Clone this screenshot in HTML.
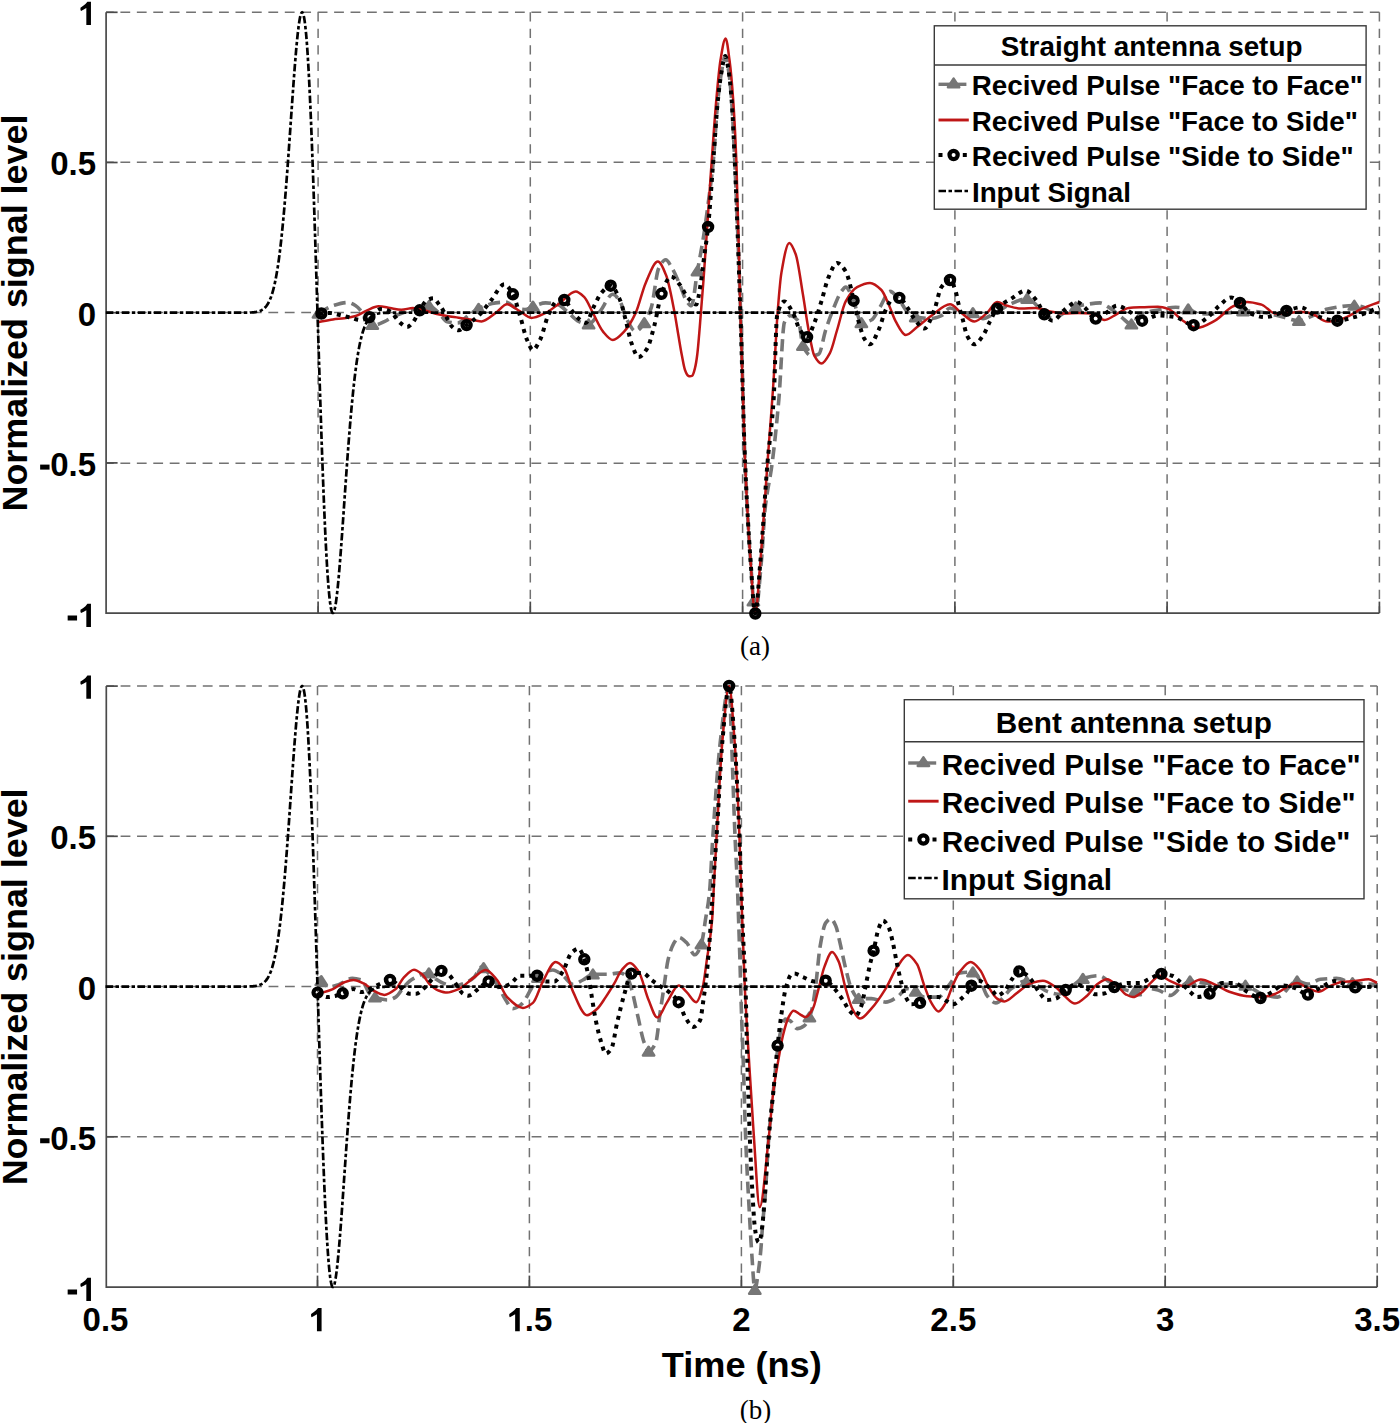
<!DOCTYPE html>
<html><head><meta charset="utf-8"><title>Received pulses</title>
<style>html,body{margin:0;padding:0;background:#fff;} svg{display:block;}</style></head>
<body>
<svg width="1400" height="1423" viewBox="0 0 1400 1423">
<rect width="1400" height="1423" fill="#fff"/>
<g stroke="#727272" stroke-width="1.5" stroke-dasharray="9.2 7.3" stroke-dashoffset="0" fill="none"><line x1="318.1" y1="12.3" x2="318.1" y2="613.1"/><line x1="530.3" y1="12.3" x2="530.3" y2="613.1"/><line x1="742.6" y1="12.3" x2="742.6" y2="613.1"/><line x1="954.9" y1="12.3" x2="954.9" y2="613.1"/><line x1="1167.1" y1="12.3" x2="1167.1" y2="613.1"/><line x1="1379.4" y1="12.3" x2="1379.4" y2="613.1"/></g>
<g stroke="#727272" stroke-width="1.5" stroke-dasharray="9.8 6.64" stroke-dashoffset="2.14" fill="none"><line x1="106.1" y1="12.3" x2="1379.4" y2="12.3"/><line x1="106.1" y1="162.3" x2="1379.4" y2="162.3"/><line x1="106.1" y1="312.6" x2="1379.4" y2="312.6"/><line x1="106.1" y1="463.2" x2="1379.4" y2="463.2"/></g>
<g stroke="#4a4a4a" stroke-width="1.7" fill="none"><path d="M106.1,12.3 V613.1 H1379.4"/><line x1="318.1" y1="613.1" x2="318.1" y2="601.6"/><line x1="530.3" y1="613.1" x2="530.3" y2="601.6"/><line x1="742.6" y1="613.1" x2="742.6" y2="601.6"/><line x1="954.9" y1="613.1" x2="954.9" y2="601.6"/><line x1="1167.1" y1="613.1" x2="1167.1" y2="601.6"/><line x1="1379.4" y1="613.1" x2="1379.4" y2="601.6"/><line x1="106.1" y1="12.3" x2="117.6" y2="12.3"/><line x1="106.1" y1="162.5" x2="117.6" y2="162.5"/><line x1="106.1" y1="312.7" x2="117.6" y2="312.7"/><line x1="106.1" y1="462.9" x2="117.6" y2="462.9"/></g>
<g font-family="Liberation Sans, sans-serif" font-weight="bold" font-size="33" fill="#000"><path d="M90.96,1.77 L90.96,25.00 L86.33,25.00 L86.33,8.10 L83.76,9.60 L81.06,11.00 L80.46,10.00 L80.46,7.70 L82.90,6.10 L85.46,4.10 L87.40,1.77Z"/><text x="50.13" y="175.1">0</text><text x="68.48" y="175.1">.</text><text x="77.65" y="175.1">5</text><text x="77.65" y="325.9">0</text><rect x="40.14" y="464.60" width="9.4" height="5.0"/><text x="50.13" y="476.2">0</text><text x="68.48" y="476.2">.</text><text x="77.65" y="476.2">5</text><rect x="67.66" y="615.50" width="9.4" height="5.0"/><path d="M90.96,603.87 L90.96,627.10 L86.33,627.10 L86.33,610.20 L83.76,611.70 L81.06,613.10 L80.46,612.10 L80.46,609.80 L82.90,608.20 L85.46,606.20 L87.40,603.87Z"/></g>
<text transform="translate(26.55,511.5) rotate(-90)" font-family="Liberation Sans, sans-serif" font-weight="bold" font-size="35.8" textLength="396.9" lengthAdjust="spacingAndGlyphs">Normalized signal level</text>
<path d="M318.0,313.7C323.0,311.0 327.9,307.2 332.9,305.7C337.8,304.2 342.8,302.5 347.7,302.5C350.4,302.5 353.0,304.1 355.7,305.7C357.6,306.8 359.5,309.1 361.4,311.4C363.3,313.7 365.2,318.8 367.1,320.6C369.4,322.8 371.7,325.1 374.0,325.1C377.4,325.1 380.9,323.2 384.3,321.7C387.0,320.6 389.6,318.4 392.3,317.1C396.5,315.1 400.8,313.5 405.0,312.0C409.3,310.5 413.7,309.1 418.0,308.0C421.6,307.1 425.3,305.7 428.9,305.7C431.9,305.7 435.0,309.5 438.0,312.0C441.0,314.5 444.1,321.0 447.1,321.7C450.5,322.5 454.0,323.0 457.4,323.0C461.6,323.0 465.8,316.8 470.0,314.0C472.9,312.1 475.7,309.9 478.6,308.6C484.3,306.0 490.0,303.6 495.7,302.9C499.0,302.5 502.4,302.1 505.7,302.1C509.5,302.1 513.3,307.9 517.1,308.6C519.7,309.1 522.4,309.5 525.0,309.5C527.6,309.5 530.3,307.3 532.9,306.4C537.2,305.0 541.4,302.9 545.7,302.9C549.5,302.9 553.3,303.5 557.1,304.3C560.4,305.0 563.8,308.8 567.1,311.4C570.9,314.4 574.8,319.8 578.6,321.4C581.9,322.8 585.3,324.3 588.6,324.3C592.4,324.3 596.2,316.0 600.0,311.4C604.3,306.2 608.6,294.3 612.9,294.3C615.3,294.3 617.6,298.0 620.0,301.4C622.4,304.8 624.7,315.8 627.1,320.0C630.0,325.1 632.8,331.4 635.7,331.4C638.6,331.4 641.4,326.9 644.3,322.9C646.7,319.6 649.0,314.5 651.4,307.1C653.8,299.6 656.2,273.4 658.6,268.6C661.0,263.8 663.3,259.8 665.7,259.8C667.8,259.8 669.9,264.6 672.0,268.0C674.7,272.3 677.3,278.9 680.0,285.0C682.0,289.6 684.0,297.0 686.0,300.0C687.8,302.7 689.6,305.8 691.4,305.8C693.4,305.8 695.4,282.4 697.4,271.1C699.3,260.5 701.1,251.6 703.0,240.0C704.7,229.7 706.3,217.6 708.0,205.0C709.7,191.9 711.5,179.7 713.2,162.0C714.8,146.0 716.3,115.2 717.9,100.0C719.1,88.4 720.3,78.7 721.5,72.0C722.7,65.1 724.0,56.0 725.2,56.0C726.4,56.0 727.6,64.5 728.8,72.0C729.7,77.8 730.7,87.8 731.6,100.0C732.7,114.0 733.7,138.7 734.8,162.0C736.7,204.3 738.7,255.9 740.6,312.7C742.1,356.8 743.6,427.5 745.1,462.9C746.9,505.4 748.7,535.3 750.5,560.0C752.1,581.9 753.7,613.5 755.3,613.5C757.4,613.5 759.4,582.8 761.5,560.0C762.7,547.2 763.8,520.9 765.0,510.0C767.4,487.5 769.8,481.6 772.2,462.9C774.4,445.8 776.6,425.0 778.8,400.0C780.7,378.8 782.5,326.7 784.4,322.5C786.3,318.3 788.1,315.7 790.0,315.7C792.9,315.7 795.7,317.7 798.6,321.4C800.0,323.3 801.5,342.7 802.9,345.7C805.7,351.6 808.6,355.7 811.4,355.7C813.8,355.7 816.2,355.2 818.6,354.3C821.0,353.4 823.3,337.3 825.7,330.0C828.1,322.6 830.5,315.9 832.9,310.0C835.7,303.0 838.6,295.1 841.4,291.4C842.8,289.5 844.3,287.1 845.7,287.1C848.1,287.1 850.5,293.7 852.9,298.6C855.7,304.4 858.6,322.9 861.4,322.9C864.7,322.9 868.1,321.6 871.4,320.0C874.3,318.6 877.1,311.5 880.0,307.1C883.3,302.0 886.7,291.4 890.0,291.4C892.7,291.4 895.3,295.2 898.0,298.0C901.0,301.2 904.1,308.6 907.1,311.4C910.0,314.0 912.8,316.6 915.7,317.1C920.9,318.0 926.2,318.6 931.4,318.6C934.7,318.6 938.1,317.2 941.4,315.7C944.3,314.4 947.1,308.0 950.0,308.0C954.3,308.0 958.6,312.9 962.9,312.9C966.2,312.9 969.6,312.9 972.9,312.9C976.2,312.9 979.6,318.6 982.9,318.6C986.2,318.6 989.6,315.9 992.9,314.3C998.6,311.5 1004.3,306.7 1010.0,304.3C1015.7,301.9 1021.4,298.6 1027.1,298.6C1030.0,298.6 1032.8,301.8 1035.7,304.3C1038.1,306.4 1040.5,311.0 1042.9,312.9C1046.2,315.5 1049.6,318.6 1052.9,318.6C1056.7,318.6 1060.5,314.8 1064.3,312.9C1068.1,311.0 1071.9,308.4 1075.7,307.1C1079.5,305.8 1083.3,304.9 1087.1,304.3C1091.4,303.6 1095.7,302.9 1100.0,302.9C1102.9,302.9 1105.7,305.4 1108.6,307.1C1112.9,309.6 1117.1,313.9 1121.4,317.1C1124.7,319.6 1128.1,324.3 1131.4,324.3C1134.3,324.3 1137.1,315.8 1140.0,314.5C1146.0,311.8 1151.9,311.1 1157.9,310.0C1163.8,308.9 1169.8,307.3 1175.7,307.3C1179.9,307.3 1184.0,308.2 1188.2,309.1C1191.8,309.9 1195.3,313.4 1198.9,313.6C1203.3,313.9 1207.6,314.0 1212.0,314.0C1217.8,314.0 1223.5,313.2 1229.3,312.7C1235.2,312.2 1241.2,310.9 1247.1,310.9C1253.1,310.9 1259.0,311.8 1265.0,312.7C1271.0,313.6 1276.9,315.7 1282.9,317.1C1288.2,318.4 1293.6,320.7 1298.9,320.7C1302.5,320.7 1306.0,318.5 1309.6,317.1C1315.6,314.8 1321.5,310.4 1327.5,309.1C1336.4,307.2 1345.4,305.5 1354.3,305.5C1362.6,305.5 1371.0,310.9 1379.3,313.6" fill="none" stroke="#767676" stroke-width="3.6" stroke-dasharray="12 6"/>
<g fill="#767676" stroke="#767676" stroke-width="2.6" stroke-linejoin="round"><path d="M318.5,308.8 L324.1,317.4 L312.9,317.4Z"/><path d="M372.3,320.1 L377.9,328.7 L366.7,328.7Z"/><path d="M429.0,301.1 L434.6,309.7 L423.4,309.7Z"/><path d="M478.6,304.0 L484.2,312.6 L473.0,312.6Z"/><path d="M532.9,301.8 L538.5,310.4 L527.3,310.4Z"/><path d="M588.6,319.7 L594.2,328.3 L583.0,328.3Z"/><path d="M644.3,318.3 L649.9,326.9 L638.7,326.9Z"/><path d="M697.4,266.5 L703.0,275.1 L691.8,275.1Z"/><path d="M753.4,596.6 L759.0,605.2 L747.8,605.2Z"/><path d="M802.9,341.1 L808.5,349.7 L797.3,349.7Z"/><path d="M861.4,318.3 L867.0,326.9 L855.8,326.9Z"/><path d="M915.7,312.5 L921.3,321.1 L910.1,321.1Z"/><path d="M972.9,308.3 L978.5,316.9 L967.3,316.9Z"/><path d="M1027.1,294.0 L1032.7,302.6 L1021.5,302.6Z"/><path d="M1075.7,302.5 L1081.3,311.1 L1070.1,311.1Z"/><path d="M1131.4,319.7 L1137.0,328.3 L1125.8,328.3Z"/><path d="M1188.2,304.5 L1193.8,313.1 L1182.6,313.1Z"/><path d="M1243.0,306.5 L1248.6,315.1 L1237.4,315.1Z"/><path d="M1298.9,316.1 L1304.5,324.7 L1293.3,324.7Z"/><path d="M1354.3,300.9 L1359.9,309.5 L1348.7,309.5Z"/></g>
<path d="M318.0,322.3C323.0,321.3 327.9,320.0 332.9,319.4C336.7,318.9 340.5,318.8 344.3,318.3C348.1,317.8 351.9,317.1 355.7,316.0C359.5,314.9 363.3,311.9 367.1,310.3C370.9,308.7 374.8,306.3 378.6,306.3C382.4,306.3 386.2,307.4 390.0,308.0C393.8,308.6 397.6,309.7 401.4,309.7C405.2,309.7 409.1,308.0 412.9,308.0C416.7,308.0 420.5,309.4 424.3,310.3C428.1,311.2 431.9,312.8 435.7,313.7C439.5,314.6 443.3,315.4 447.1,316.0C450.9,316.7 454.8,317.1 458.6,317.7C462.4,318.3 466.2,318.9 470.0,319.5C473.8,320.1 477.6,321.4 481.4,321.4C486.2,321.4 490.9,316.1 495.7,312.9C499.5,310.4 503.3,304.3 507.1,304.3C511.4,304.3 515.7,309.0 520.0,311.4C523.8,313.5 527.6,317.9 531.4,317.9C536.2,317.9 540.9,315.1 545.7,312.9C550.5,310.7 555.2,306.3 560.0,302.9C565.2,299.2 570.5,291.4 575.7,291.4C578.6,291.4 581.4,294.3 584.3,297.1C587.2,299.9 590.0,307.6 592.9,312.9C596.2,319.0 599.6,327.5 602.9,331.4C606.2,335.3 609.6,340.0 612.9,340.0C616.7,340.0 620.5,335.3 624.3,331.4C628.1,327.5 631.9,321.0 635.7,312.9C639.0,305.8 642.4,290.3 645.7,282.9C649.8,273.8 653.8,261.6 657.9,261.6C660.6,261.6 663.3,268.5 666.0,275.0C668.9,281.9 671.7,297.9 674.6,312.7C675.7,318.6 676.9,326.3 678.0,333.0C679.3,340.4 680.5,348.5 681.8,355.0C682.9,360.5 683.9,367.2 685.0,370.0C686.0,372.7 687.0,375.0 688.0,375.6C688.7,376.0 689.3,376.3 690.0,376.3C690.8,376.3 691.5,376.0 692.3,375.6C693.2,375.1 694.1,371.5 695.0,368.0C695.7,365.2 696.5,360.6 697.2,355.0C698.4,345.6 699.7,327.5 700.9,312.7C701.8,302.3 702.6,291.6 703.5,280.0C704.7,264.4 705.8,246.9 707.0,230.0C708.5,207.7 710.1,183.4 711.6,162.0C713.2,140.2 714.7,117.3 716.3,100.0C717.7,84.6 719.1,68.3 720.5,60.0C722.2,49.9 723.9,38.4 725.6,38.4C726.9,38.4 728.2,50.5 729.5,60.0C730.7,69.1 732.0,82.8 733.2,100.0C734.3,114.9 735.3,135.0 736.4,162.0C737.7,195.7 739.1,266.5 740.4,312.7C742.0,367.0 743.5,426.6 745.1,462.9C746.9,504.6 748.7,535.0 750.5,560.0C752.1,581.7 753.6,613.5 755.2,613.5C757.0,613.5 758.7,580.5 760.5,560.0C762.8,532.9 765.2,494.9 767.5,462.9C769.5,435.0 771.6,410.8 773.6,380.0C774.9,359.8 776.3,329.9 777.6,312.7C778.9,296.4 780.1,280.4 781.4,272.9C784.0,257.4 786.7,242.9 789.3,242.9C791.4,242.9 793.6,248.6 795.7,254.3C798.1,260.7 800.5,280.1 802.9,294.3C804.8,305.5 806.7,320.0 808.6,330.0C810.5,340.0 812.4,352.2 814.3,355.7C816.7,360.0 819.0,363.6 821.4,363.6C824.3,363.6 827.1,358.1 830.0,352.9C832.4,348.6 834.7,337.7 837.1,330.0C840.0,320.6 842.8,306.7 845.7,301.4C849.5,294.3 853.3,289.1 857.1,287.1C861.4,284.8 865.7,282.9 870.0,282.9C873.8,282.9 877.6,286.2 881.4,290.0C883.8,292.4 886.2,299.1 888.6,304.3C891.0,309.5 893.3,317.2 895.7,321.4C899.0,327.3 902.4,335.0 905.7,335.0C909.5,335.0 913.3,329.9 917.1,327.1C921.9,323.6 926.6,319.0 931.4,315.7C937.6,311.4 943.8,304.3 950.0,304.3C953.8,304.3 957.6,310.2 961.4,312.9C965.7,315.9 970.0,321.4 974.3,321.4C978.6,321.4 982.8,316.4 987.1,312.9C990.4,310.1 993.8,302.1 997.1,302.1C1000.4,302.1 1003.8,304.8 1007.1,305.7C1011.9,307.0 1016.6,308.6 1021.4,308.6C1026.2,308.6 1030.9,307.9 1035.7,307.9C1040.5,307.9 1045.2,310.5 1050.0,311.4C1054.8,312.3 1059.5,313.6 1064.3,313.6C1069.1,313.6 1073.8,312.9 1078.6,312.9C1083.4,312.9 1088.1,313.2 1092.9,313.6C1096.7,314.0 1100.5,320.0 1104.3,320.0C1107.6,320.0 1111.0,317.3 1114.3,315.7C1119.1,313.4 1123.8,308.3 1128.6,307.9C1132.4,307.5 1136.2,307.4 1140.0,307.3C1146.0,307.1 1151.9,306.8 1157.9,306.8C1161.5,306.8 1165.0,307.9 1168.6,309.1C1173.4,310.7 1178.1,317.7 1182.9,320.7C1187.6,323.7 1192.4,327.9 1197.1,327.9C1203.1,327.9 1209.0,323.9 1215.0,320.7C1221.0,317.5 1226.9,309.0 1232.9,306.4C1237.6,304.3 1242.4,302.0 1247.1,302.0C1251.9,302.0 1256.6,303.3 1261.4,304.6C1266.2,305.9 1270.9,313.6 1275.7,313.6C1279.8,313.6 1283.9,313.3 1288.0,313.0C1292.2,312.7 1296.5,311.8 1300.7,311.8C1304.3,311.8 1307.8,312.7 1311.4,313.6C1316.8,314.9 1322.1,321.6 1327.5,321.6C1332.3,321.6 1337.0,320.2 1341.8,318.9C1348.9,317.0 1356.1,311.3 1363.2,308.2C1368.6,305.9 1373.9,304.1 1379.3,302.0" fill="none" stroke="#bf1616" stroke-width="2.5"/>
<path d="M319.0,313.7C322.7,313.5 326.3,313.0 330.0,313.0C333.3,313.0 336.7,314.3 340.0,315.0C344.0,315.9 348.0,317.0 352.0,318.0C354.7,318.7 357.3,320.0 360.0,320.0C363.1,320.0 366.3,318.4 369.4,317.1C373.2,315.5 377.1,309.1 380.9,309.1C383.9,309.1 387.0,310.2 390.0,311.4C393.4,312.8 396.9,320.3 400.3,322.9C402.6,324.6 404.8,326.9 407.1,326.9C409.0,326.9 411.0,324.4 412.9,322.3C415.2,319.8 417.4,313.8 419.7,310.3C422.0,306.7 424.3,301.9 426.6,300.6C428.9,299.4 431.1,298.3 433.4,298.3C435.3,298.3 437.2,302.2 439.1,304.6C440.6,306.5 442.2,308.8 443.7,311.4C444.8,313.4 446.0,316.2 447.1,318.3C448.6,321.2 450.2,324.9 451.7,326.3C454.0,328.4 456.3,330.3 458.6,330.3C461.0,330.3 463.3,327.4 465.7,325.7C470.0,322.7 474.3,319.8 478.6,315.7C482.9,311.6 487.1,305.2 491.4,300.0C495.7,294.7 500.0,284.3 504.3,284.3C507.2,284.3 510.0,289.4 512.9,294.3C515.3,298.3 517.6,308.1 520.0,315.7C522.4,323.3 524.7,334.6 527.1,340.0C529.0,344.4 531.0,350.0 532.9,350.0C535.3,350.0 537.6,344.5 540.0,340.0C542.9,334.6 545.7,320.2 548.6,314.3C551.4,308.5 554.2,301.7 557.0,301.0C559.4,300.4 561.9,300.0 564.3,300.0C566.7,300.0 569.0,306.9 571.4,310.0C573.8,313.1 576.2,316.7 578.6,318.6C581.0,320.5 583.3,322.9 585.7,322.9C588.6,322.9 591.4,311.1 594.3,305.7C596.7,301.2 599.0,295.5 601.4,292.9C604.5,289.5 607.6,285.7 610.7,285.7C613.8,285.7 616.9,293.2 620.0,300.0C621.9,304.2 623.8,312.9 625.7,320.0C627.6,327.1 629.5,337.8 631.4,342.9C633.8,349.3 636.2,357.1 638.6,357.1C641.4,357.1 644.3,353.0 647.1,348.6C649.5,344.9 651.9,334.6 654.3,325.7C656.7,316.8 659.1,300.1 661.5,293.8C664.7,285.5 667.8,276.5 671.0,276.5C674.0,276.5 677.0,281.4 680.0,285.0C682.7,288.2 685.3,295.1 688.0,298.0C690.7,300.9 693.5,304.6 696.2,304.6C697.6,304.6 699.1,293.3 700.5,285.0C701.7,278.3 702.8,266.9 704.0,258.0C705.4,247.5 706.7,239.8 708.1,226.9C709.8,210.9 711.5,184.0 713.2,162.0C714.8,141.7 716.3,115.2 717.9,100.0C719.1,88.4 720.3,78.7 721.5,72.0C722.7,65.1 724.0,56.0 725.2,56.0C726.4,56.0 727.6,64.5 728.8,72.0C729.7,77.8 730.7,87.8 731.6,100.0C732.7,114.0 733.7,138.3 734.8,162.0C736.7,203.4 738.5,258.0 740.4,312.7C742.0,358.6 743.5,426.6 745.1,462.9C746.9,504.6 748.7,535.0 750.5,560.0C752.1,581.7 753.6,613.5 755.2,613.5C757.0,613.5 758.7,580.5 760.5,560.0C762.8,532.9 765.2,490.4 767.5,462.9C769.5,438.9 771.6,430.5 773.6,400.0C774.8,382.5 775.9,320.4 777.1,315.7C779.5,305.9 781.9,301.4 784.3,301.4C787.2,301.4 790.0,307.9 792.9,312.9C795.3,317.0 797.6,326.7 800.0,330.0C802.4,333.3 804.7,337.1 807.1,337.1C809.5,337.1 811.9,328.6 814.3,322.9C816.7,317.2 819.0,309.0 821.4,301.4C823.8,293.7 826.2,282.5 828.6,277.1C831.4,270.7 834.3,262.9 837.1,262.9C840.0,262.9 842.8,266.9 845.7,271.4C847.6,274.4 849.5,282.4 851.4,290.0C852.1,293.0 852.9,297.4 853.6,300.7C855.3,308.2 856.9,315.6 858.6,321.4C860.5,328.1 862.4,335.7 864.3,338.6C866.2,341.5 868.1,344.3 870.0,344.3C872.9,344.3 875.7,336.0 878.6,330.0C881.0,325.0 883.3,314.8 885.7,310.0C888.1,305.1 890.5,299.1 892.9,298.6C895.0,298.2 897.2,297.9 899.3,297.9C901.9,297.9 904.5,303.6 907.1,307.1C909.5,310.4 911.9,315.6 914.3,318.6C917.6,322.8 921.0,328.6 924.3,328.6C927.6,328.6 931.0,318.0 934.3,310.0C936.7,304.3 939.0,290.3 941.4,287.1C944.3,283.3 947.1,280.0 950.0,280.0C951.9,280.0 953.8,285.9 955.7,291.4C956.7,294.2 957.6,300.4 958.6,304.3C960.0,310.1 961.5,314.7 962.9,320.0C964.3,325.2 965.7,333.0 967.1,335.7C969.5,340.3 971.9,344.3 974.3,344.3C977.2,344.3 980.0,339.6 982.9,335.7C985.3,332.5 987.6,325.9 990.0,321.4C992.4,316.9 994.7,311.1 997.1,308.6C1001.9,303.5 1006.6,301.5 1011.4,298.6C1016.2,295.7 1020.9,290.7 1025.7,290.7C1029.5,290.7 1033.3,296.6 1037.1,301.4C1039.5,304.4 1041.9,311.7 1044.3,314.3C1047.2,317.4 1050.0,320.7 1052.9,320.7C1056.7,320.7 1060.5,312.8 1064.3,310.0C1068.6,306.8 1072.8,302.1 1077.1,302.1C1079.5,302.1 1081.9,305.2 1084.3,307.1C1088.1,310.2 1091.9,318.6 1095.7,318.6C1099.1,318.6 1102.6,315.0 1106.0,313.0C1109.7,310.8 1113.4,305.7 1117.1,305.7C1121.9,305.7 1126.6,310.0 1131.4,312.9C1135.0,315.0 1138.5,320.7 1142.1,320.7C1147.4,320.7 1152.6,315.4 1157.9,315.4C1163.8,315.4 1169.8,316.2 1175.7,317.1C1181.7,318.0 1187.6,325.2 1193.6,325.2C1198.4,325.2 1203.1,320.6 1207.9,317.1C1211.5,314.5 1215.0,309.4 1218.6,306.4C1222.8,302.9 1226.9,297.5 1231.1,297.5C1234.1,297.5 1237.0,300.7 1240.0,302.9C1243.6,305.6 1247.1,312.2 1250.7,313.6C1255.5,315.5 1260.2,317.1 1265.0,317.1C1272.1,317.1 1279.3,312.8 1286.4,310.9C1291.2,309.6 1295.9,307.3 1300.7,307.3C1305.5,307.3 1310.2,313.8 1315.0,315.4C1322.4,318.0 1329.9,320.7 1337.3,320.7C1343.0,320.7 1348.6,318.6 1354.3,317.1C1362.6,314.9 1371.0,310.6 1379.3,307.3" fill="none" stroke="#000" stroke-width="4" stroke-dasharray="4 5"/>
<g fill="none" stroke="#000" stroke-width="4.2"><circle cx="321.4" cy="313.5" r="4.1"/><circle cx="369.4" cy="317.1" r="4.1"/><circle cx="419.7" cy="310.3" r="4.1"/><circle cx="466.6" cy="325.1" r="4.1"/><circle cx="512.9" cy="294.3" r="4.1"/><circle cx="564.3" cy="300.0" r="4.1"/><circle cx="610.7" cy="285.7" r="4.1"/><circle cx="661.5" cy="293.8" r="4.1"/><circle cx="708.1" cy="226.9" r="4.1"/><circle cx="755.3" cy="613.5" r="4.1"/><circle cx="807.1" cy="337.1" r="4.1"/><circle cx="853.6" cy="300.7" r="4.1"/><circle cx="899.3" cy="297.9" r="4.1"/><circle cx="950.0" cy="280.0" r="4.1"/><circle cx="997.1" cy="308.6" r="4.1"/><circle cx="1044.3" cy="314.3" r="4.1"/><circle cx="1095.7" cy="318.6" r="4.1"/><circle cx="1142.1" cy="320.7" r="4.1"/><circle cx="1193.6" cy="325.2" r="4.1"/><circle cx="1240.0" cy="302.9" r="4.1"/><circle cx="1286.4" cy="310.9" r="4.1"/><circle cx="1337.3" cy="320.7" r="4.1"/></g>
<path d="M105.8,312.7 L225.1,312.7 L225.1,312.7 L225.6,312.7 L226.1,312.7 L226.6,312.7 L227.1,312.7 L227.6,312.7 L228.1,312.7 L228.6,312.7 L229.1,312.7 L229.6,312.7 L230.1,312.7 L230.6,312.7 L231.1,312.7 L231.6,312.7 L232.1,312.7 L232.6,312.7 L233.1,312.7 L233.6,312.7 L234.1,312.7 L234.6,312.7 L235.1,312.7 L235.6,312.7 L236.1,312.7 L236.6,312.7 L237.1,312.7 L237.6,312.7 L238.1,312.7 L238.6,312.7 L239.1,312.7 L239.6,312.7 L240.1,312.7 L240.6,312.7 L241.1,312.7 L241.6,312.7 L242.1,312.7 L242.6,312.7 L243.1,312.7 L243.6,312.7 L244.1,312.7 L244.6,312.7 L245.1,312.7 L245.6,312.7 L246.1,312.7 L246.6,312.6 L247.1,312.6 L247.6,312.6 L248.1,312.6 L248.6,312.6 L249.1,312.6 L249.6,312.6 L250.1,312.5 L250.6,312.5 L251.1,312.5 L251.6,312.5 L252.1,312.4 L252.6,312.4 L253.1,312.4 L253.6,312.3 L254.1,312.3 L254.6,312.2 L255.1,312.2 L255.6,312.1 L256.1,312.0 L256.6,311.9 L257.1,311.8 L257.6,311.7 L258.1,311.6 L258.6,311.4 L259.1,311.3 L259.6,311.1 L260.1,310.9 L260.6,310.7 L261.1,310.5 L261.6,310.2 L262.1,309.9 L262.6,309.6 L263.1,309.3 L263.6,308.9 L264.1,308.5 L264.6,308.0 L265.1,307.5 L265.6,307.0 L266.1,306.4 L266.6,305.8 L267.1,305.0 L267.6,304.3 L268.1,303.4 L268.6,302.5 L269.1,301.5 L269.6,300.5 L270.1,299.3 L270.6,298.1 L271.1,296.8 L271.6,295.3 L272.1,293.8 L272.6,292.1 L273.1,290.3 L273.6,288.4 L274.1,286.4 L274.6,284.2 L275.1,281.9 L275.6,279.4 L276.1,276.8 L276.6,274.0 L277.1,271.1 L277.6,268.0 L278.1,264.7 L278.6,261.2 L279.1,257.6 L279.6,253.7 L280.1,249.7 L280.6,245.5 L281.1,241.0 L281.6,236.4 L282.1,231.6 L282.6,226.6 L283.1,221.4 L283.6,216.0 L284.1,210.5 L284.6,204.7 L285.1,198.8 L285.6,192.6 L286.1,186.4 L286.6,179.9 L287.1,173.4 L287.6,166.7 L288.1,159.9 L288.6,152.9 L289.1,145.9 L289.6,138.8 L290.1,131.7 L290.6,124.5 L291.1,117.4 L291.6,110.2 L292.1,103.1 L292.6,96.0 L293.1,89.0 L293.6,82.2 L294.1,75.5 L294.6,68.9 L295.1,62.6 L295.6,56.5 L296.1,50.6 L296.6,45.1 L297.1,39.9 L297.6,35.0 L298.1,30.5 L298.6,26.5 L299.1,22.9 L299.6,19.7 L300.1,17.1 L300.6,15.1 L301.1,13.5 L301.6,12.6 L302.1,12.3 L302.6,12.6 L303.1,13.6 L303.6,15.2 L304.1,17.6 L304.6,20.6 L305.1,24.3 L305.6,28.8 L306.1,33.9 L306.6,39.8 L307.1,46.4 L307.6,53.7 L308.1,61.8 L308.6,70.5 L309.1,79.9 L309.6,90.0 L310.1,100.7 L310.6,112.0 L311.1,123.9 L311.6,136.4 L312.1,149.4 L312.6,162.9 L313.1,176.9 L313.6,191.2 L314.1,206.0 L314.6,221.1 L315.1,236.4 L315.6,252.1 L316.1,267.9 L316.6,283.8 L317.1,299.8 L317.6,315.9 L318.1,332.0 L318.6,348.0 L319.1,363.9 L319.6,379.6 L320.1,395.1 L320.6,410.4 L321.1,425.4 L321.6,440.0 L322.1,454.2 L322.6,468.0 L323.1,481.3 L323.6,494.1 L324.1,506.3 L324.6,518.0 L325.1,529.1 L325.6,539.5 L326.1,549.3 L326.6,558.5 L327.1,566.9 L327.6,574.7 L328.1,581.7 L328.6,588.0 L329.1,593.6 L329.6,598.5 L330.1,602.7 L330.6,606.1 L331.1,608.9 L331.6,610.9 L332.1,612.3 L332.6,613.0 L333.1,613.0 L333.6,612.5 L334.1,611.3 L334.6,609.6 L335.1,607.3 L335.6,604.5 L336.1,601.2 L336.6,597.4 L337.1,593.1 L337.6,588.5 L338.1,583.5 L338.6,578.1 L339.1,572.5 L339.6,566.5 L340.1,560.3 L340.6,553.9 L341.1,547.3 L341.6,540.5 L342.1,533.6 L342.6,526.6 L343.1,519.5 L343.6,512.3 L344.1,505.2 L344.6,498.0 L345.1,490.8 L345.6,483.7 L346.1,476.7 L346.6,469.7 L347.1,462.8 L347.6,456.0 L348.1,449.4 L348.6,442.9 L349.1,436.5 L349.6,430.3 L350.1,424.2 L350.6,418.4 L351.1,412.7 L351.6,407.2 L352.1,401.9 L352.6,396.8 L353.1,391.8 L353.6,387.1 L354.1,382.6 L354.6,378.2 L355.1,374.1 L355.6,370.1 L356.1,366.4 L356.6,362.8 L357.1,359.4 L357.6,356.2 L358.1,353.1 L358.6,350.2 L359.1,347.5 L359.6,345.0 L360.1,342.6 L360.6,340.3 L361.1,338.2 L361.6,336.2 L362.1,334.3 L362.6,332.6 L363.1,331.0 L363.6,329.5 L364.1,328.1 L364.6,326.8 L365.1,325.6 L365.6,324.5 L366.1,323.4 L366.6,322.5 L367.1,321.6 L367.6,320.8 L368.1,320.1 L368.6,319.4 L369.1,318.8 L369.6,318.2 L370.1,317.7 L370.6,317.2 L371.1,316.7 L371.6,316.3 L372.1,316.0 L372.6,315.6 L373.1,315.3 L373.6,315.1 L374.1,314.8 L374.6,314.6 L375.1,314.4 L375.6,314.2 L376.1,314.1 L376.6,313.9 L377.1,313.8 L377.6,313.7 L378.1,313.5 L378.6,313.5 L379.1,313.4 L379.6,313.3 L380.1,313.2 L380.6,313.2 L381.1,313.1 L381.6,313.1 L382.1,313.0 L382.6,313.0 L383.1,312.9 L383.6,312.9 L384.1,312.9 L384.6,312.9 L385.1,312.8 L385.6,312.8 L386.1,312.8 L386.6,312.8 L387.1,312.8 L387.6,312.8 L388.1,312.8 L388.6,312.8 L389.1,312.7 L389.6,312.7 L390.1,312.7 L390.6,312.7 L391.1,312.7 L391.6,312.7 L392.1,312.7 L392.6,312.7 L393.1,312.7 L393.6,312.7 L394.1,312.7 L394.6,312.7 L395.1,312.7 L395.6,312.7 L396.1,312.7 L396.6,312.7 L397.1,312.7 L397.6,312.7 L398.1,312.7 L398.6,312.7 L399.1,312.7 L399.6,312.7 L400.1,312.7 L400.6,312.7 L401.1,312.7 L401.6,312.7 L402.1,312.7 L402.6,312.7 L403.1,312.7 L403.6,312.7 L404.1,312.7 L404.6,312.7 L405.1,312.7 L405.6,312.7 L406.1,312.7 L406.6,312.7 L407.1,312.7 L407.6,312.7 L408.1,312.7 L408.6,312.7 L409.1,312.7 L409.6,312.7 L1379.4,312.7" fill="none" stroke="#000" stroke-width="2.7" stroke-dasharray="7.5 2.5 3.5 2.5"/>
<rect x="934.3" y="25.8" width="431.8" height="183.4" fill="#fff" stroke="#3a3a3a" stroke-width="1.4"/>
<line x1="934.3" y1="65.0" x2="1366.1" y2="65.0" stroke="#3a3a3a" stroke-width="1.4"/>
<text x="1000.74" y="56.0" font-family="Liberation Sans, sans-serif" font-weight="bold" font-size="27.5" textLength="301.68" lengthAdjust="spacingAndGlyphs">Straight antenna setup</text>
<text x="971.81" y="94.8" font-family="Liberation Sans, sans-serif" font-weight="bold" font-size="27.2" textLength="391.04" lengthAdjust="spacingAndGlyphs">Recived Pulse &quot;Face to Face&quot;</text>
<line x1="938.5" y1="84.3" x2="966.4" y2="84.3" stroke="#767676" stroke-width="3.4"/>
<g fill="#767676" stroke="#767676" stroke-width="2.6" stroke-linejoin="round"><path d="M953.6,78.7 L959.2,87.3 L948.0,87.3Z"/></g>
<text x="971.81" y="130.9" font-family="Liberation Sans, sans-serif" font-weight="bold" font-size="27.2" textLength="386.09" lengthAdjust="spacingAndGlyphs">Recived Pulse &quot;Face to Side&quot;</text>
<line x1="938.5" y1="120.0" x2="968.8" y2="120.0" stroke="#bf1616" stroke-width="2.9"/>
<text x="971.81" y="166.0" font-family="Liberation Sans, sans-serif" font-weight="bold" font-size="27.2" textLength="381.84" lengthAdjust="spacingAndGlyphs">Recived Pulse &quot;Side to Side&quot;</text>
<line x1="938.5" y1="155.0" x2="966.8" y2="155.0" stroke="#000" stroke-width="4" stroke-dasharray="4 20.3"/>
<g fill="none" stroke="#000" stroke-width="4.2"><circle cx="953.6" cy="155.0" r="4.1"/></g>
<text x="971.91" y="201.5" font-family="Liberation Sans, sans-serif" font-weight="bold" font-size="27.2" textLength="159.04" lengthAdjust="spacingAndGlyphs">Input Signal</text>
<line x1="938.5" y1="191.0" x2="968.8" y2="191.0" stroke="#000" stroke-width="2.3" stroke-dasharray="7.5 2.5 3.5 2.5"/>
<g stroke="#727272" stroke-width="1.5" stroke-dasharray="9.2 7.3" stroke-dashoffset="0" fill="none"><line x1="317.5" y1="686.1" x2="317.5" y2="1287.1"/><line x1="529.4" y1="686.1" x2="529.4" y2="1287.1"/><line x1="741.4" y1="686.1" x2="741.4" y2="1287.1"/><line x1="953.3" y1="686.1" x2="953.3" y2="1287.1"/><line x1="1165.2" y1="686.1" x2="1165.2" y2="1287.1"/><line x1="1377.2" y1="686.1" x2="1377.2" y2="1287.1"/></g>
<g stroke="#727272" stroke-width="1.5" stroke-dasharray="9.8 6.64" stroke-dashoffset="2.14" fill="none"><line x1="106.3" y1="686.1" x2="1377.2" y2="686.1"/><line x1="106.3" y1="836.3" x2="1377.2" y2="836.3"/><line x1="106.3" y1="986.6" x2="1377.2" y2="986.6"/><line x1="106.3" y1="1136.8" x2="1377.2" y2="1136.8"/></g>
<g stroke="#4a4a4a" stroke-width="1.7" fill="none"><path d="M106.3,686.1 V1287.1 H1377.2"/><line x1="317.5" y1="1287.1" x2="317.5" y2="1275.6"/><line x1="529.4" y1="1287.1" x2="529.4" y2="1275.6"/><line x1="741.4" y1="1287.1" x2="741.4" y2="1275.6"/><line x1="953.3" y1="1287.1" x2="953.3" y2="1275.6"/><line x1="1165.2" y1="1287.1" x2="1165.2" y2="1275.6"/><line x1="1377.2" y1="1287.1" x2="1377.2" y2="1275.6"/><line x1="106.3" y1="686.1" x2="117.8" y2="686.1"/><line x1="106.3" y1="836.3" x2="117.8" y2="836.3"/><line x1="106.3" y1="986.6" x2="117.8" y2="986.6"/><line x1="106.3" y1="1136.8" x2="117.8" y2="1136.8"/></g>
<g font-family="Liberation Sans, sans-serif" font-weight="bold" font-size="33" fill="#000"><path d="M90.96,675.57 L90.96,698.80 L86.33,698.80 L86.33,681.90 L83.76,683.40 L81.06,684.80 L80.46,683.80 L80.46,681.50 L82.90,679.90 L85.46,677.90 L87.40,675.57Z"/><text x="50.13" y="849.1">0</text><text x="68.48" y="849.1">.</text><text x="77.65" y="849.1">5</text><text x="77.65" y="999.9">0</text><rect x="40.14" y="1138.25" width="9.4" height="5.0"/><text x="50.13" y="1149.8">0</text><text x="68.48" y="1149.8">.</text><text x="77.65" y="1149.8">5</text><rect x="67.66" y="1289.50" width="9.4" height="5.0"/><path d="M90.96,1277.87 L90.96,1301.10 L86.33,1301.10 L86.33,1284.20 L83.76,1285.70 L81.06,1287.10 L80.46,1286.10 L80.46,1283.80 L82.90,1282.20 L85.46,1280.20 L87.40,1277.87Z"/><text x="82.56" y="1331.2">0</text><text x="100.91" y="1331.2">.</text><text x="110.09" y="1331.2">5</text><path d="M321.58,1307.97 L321.58,1331.20 L316.95,1331.20 L316.95,1314.30 L314.38,1315.80 L311.68,1317.20 L311.08,1316.20 L311.08,1313.90 L313.52,1312.30 L316.08,1310.30 L318.02,1307.97Z"/><path d="M519.77,1307.97 L519.77,1331.20 L515.14,1331.20 L515.14,1314.30 L512.57,1315.80 L509.87,1317.20 L509.27,1316.20 L509.27,1313.90 L511.71,1312.30 L514.27,1310.30 L516.21,1307.97Z"/><text x="524.81" y="1331.2">.</text><text x="533.99" y="1331.2">5</text><text x="732.18" y="1331.2">2</text><text x="930.37" y="1331.2">2</text><text x="948.71" y="1331.2">.</text><text x="957.89" y="1331.2">5</text><text x="1156.08" y="1331.2">3</text><text x="1354.27" y="1331.2">3</text><text x="1372.61" y="1331.2">.</text><text x="1381.79" y="1331.2">5</text></g>
<text transform="translate(26.55,1185.3) rotate(-90)" font-family="Liberation Sans, sans-serif" font-weight="bold" font-size="35.8" textLength="396.9" lengthAdjust="spacingAndGlyphs">Normalized signal level</text>
<path d="M318.0,977.7C321.8,980.8 325.6,986.9 329.4,986.9C332.5,986.9 335.5,985.6 338.6,984.6C343.2,983.1 347.7,978.3 352.3,978.3C355.3,978.3 358.4,979.0 361.4,980.0C364.5,981.0 367.5,992.9 370.6,994.9C373.3,996.7 375.9,997.6 378.6,998.3C381.6,999.1 384.7,1000.0 387.7,1000.0C390.4,1000.0 393.0,998.6 395.7,997.1C398.8,995.4 401.8,988.8 404.9,985.7C407.6,983.0 410.2,980.3 412.9,978.9C418.2,976.1 423.6,973.1 428.9,973.1C431.2,973.1 433.4,977.4 435.7,978.9C438.4,980.7 441.0,982.5 443.7,983.4C447.5,984.7 451.2,986.0 455.0,986.0C458.3,986.0 461.7,984.4 465.0,983.0C468.1,981.7 471.2,979.9 474.3,977.1C476.7,975.0 479.0,967.1 481.4,967.1C484.3,967.1 487.1,971.8 490.0,975.0C492.9,978.2 495.7,982.5 498.6,987.1C501.0,990.9 503.3,996.6 505.7,1000.0C508.1,1003.5 510.5,1008.6 512.9,1008.6C515.7,1008.6 518.6,1006.4 521.4,1004.3C524.7,1001.8 528.1,993.7 531.4,988.6C534.3,984.2 537.1,977.7 540.0,975.7C544.3,972.7 548.6,970.0 552.9,970.0C556.2,970.0 559.6,973.4 562.9,975.7C566.2,978.0 569.6,984.3 572.9,984.3C576.2,984.3 579.6,981.6 582.9,980.0C586.2,978.4 589.6,974.3 592.9,974.3C597.6,974.3 602.4,974.3 607.1,974.3C611.4,974.3 615.7,972.9 620.0,972.9C622.4,972.9 624.7,974.7 627.1,977.1C628.5,978.6 630.0,983.9 631.4,988.6C633.3,994.8 635.2,1004.9 637.1,1012.9C639.5,1023.0 641.9,1036.7 644.3,1042.9C645.7,1046.6 647.2,1051.4 648.6,1051.4C651.0,1051.4 653.3,1048.0 655.7,1042.9C657.1,1039.8 658.6,1023.3 660.0,1013.6C661.3,1004.6 662.7,995.7 664.0,986.8C665.3,977.9 666.7,965.7 668.0,960.1C669.8,952.6 671.6,947.3 673.4,944.1C675.2,941.0 676.9,937.4 678.7,937.4C681.4,937.4 684.0,940.3 686.7,942.8C689.4,945.3 692.1,954.8 694.8,954.8C697.0,954.8 699.2,950.0 701.4,944.1C702.7,940.5 704.1,928.5 705.4,920.1C706.7,911.7 708.1,906.2 709.4,893.4C710.6,882.2 711.7,852.8 712.9,835.9C715.4,799.1 718.0,761.4 720.5,740.0C723.4,715.8 726.2,686.0 729.1,686.0C729.9,686.0 730.7,720.4 731.5,740.0C732.7,768.7 733.8,808.6 735.0,835.9C735.7,853.0 736.5,864.0 737.2,881.6C738.0,900.0 738.7,923.2 739.5,946.8C740.2,967.3 740.8,993.6 741.5,1013.6C742.1,1030.6 742.6,1043.4 743.2,1060.0C744.0,1083.5 744.8,1116.8 745.6,1137.0C746.8,1167.3 748.0,1188.0 749.2,1210.0C750.1,1227.1 751.1,1244.1 752.0,1257.0C752.9,1269.9 753.9,1289.8 754.8,1289.8C756.1,1289.8 757.3,1278.6 758.6,1270.0C759.3,1265.0 760.1,1258.1 760.8,1250.0C761.5,1242.6 762.1,1230.0 762.8,1222.0C763.5,1213.6 764.2,1208.7 764.9,1200.0C766.2,1183.8 767.5,1153.1 768.8,1136.9C770.4,1117.4 771.9,1105.5 773.5,1090.0C774.9,1076.5 776.2,1060.0 777.6,1050.0C778.7,1041.7 779.9,1034.0 781.0,1030.0C782.5,1024.7 784.0,1019.0 785.5,1019.0C787.2,1019.0 788.8,1020.0 790.5,1021.0C792.7,1022.3 794.9,1028.6 797.1,1028.6C799.5,1028.6 801.9,1027.3 804.3,1025.7C806.7,1024.1 809.0,1018.8 811.4,1011.4C812.8,1006.9 814.3,996.0 815.7,985.7C817.1,975.4 818.6,955.5 820.0,947.1C821.9,936.0 823.8,925.6 825.7,922.9C827.4,920.6 829.0,918.6 830.7,918.6C832.4,918.6 834.0,922.2 835.7,925.7C837.1,928.7 838.6,936.8 840.0,942.9C841.9,950.9 843.8,961.1 845.7,968.6C847.6,976.1 849.5,984.8 851.4,988.6C853.8,993.5 856.2,998.6 858.6,998.6C862.9,998.6 867.1,998.6 871.4,998.6C876.2,998.6 880.9,1002.1 885.7,1002.1C889.5,1002.1 893.3,999.3 897.1,997.1C900.4,995.2 903.8,988.6 907.1,988.6C910.0,988.6 912.8,990.1 915.7,991.4C918.6,992.7 921.4,997.1 924.3,997.1C929.1,997.1 933.8,997.1 938.6,997.1C941.9,997.1 945.3,989.5 948.6,985.7C952.4,981.4 956.2,973.4 960.0,972.9C964.3,972.4 968.6,972.1 972.9,972.1C975.3,972.1 977.6,976.5 980.0,980.0C982.4,983.5 984.7,992.8 987.1,995.7C990.0,999.2 992.8,1002.9 995.7,1002.9C1000.9,1002.9 1006.2,992.2 1011.4,988.6C1015.7,985.6 1020.0,981.4 1024.3,981.4C1028.2,981.4 1032.1,983.4 1036.0,985.0C1039.7,986.5 1043.4,990.1 1047.1,991.4C1050.9,992.7 1054.8,994.3 1058.6,994.3C1062.4,994.3 1066.2,990.4 1070.0,988.0C1074.3,985.3 1078.6,979.9 1082.9,978.6C1088.1,977.0 1093.4,975.7 1098.6,975.7C1102.4,975.7 1106.2,979.9 1110.0,982.0C1113.8,984.1 1117.6,987.4 1121.4,988.6C1125.7,990.0 1130.0,991.4 1134.3,991.4C1137.9,991.4 1141.4,988.0 1145.0,988.0C1149.3,988.0 1153.6,989.0 1157.9,990.0C1162.1,991.0 1166.2,995.4 1170.4,995.4C1173.6,995.4 1176.8,990.3 1180.0,988.0C1183.3,985.6 1186.7,981.1 1190.0,981.1C1194.2,981.1 1198.3,982.5 1202.5,982.9C1208.3,983.4 1214.2,983.6 1220.0,984.0C1228.5,984.5 1236.9,984.5 1245.4,985.5C1250.7,986.1 1256.1,992.0 1261.4,993.6C1266.8,995.2 1272.1,997.1 1277.5,997.1C1284.0,997.1 1290.6,981.1 1297.1,981.1C1300.7,981.1 1304.4,984.0 1308.0,984.0C1312.1,984.0 1316.3,979.7 1320.4,979.3C1325.7,978.8 1331.1,978.4 1336.4,978.4C1341.8,978.4 1347.1,982.3 1352.5,982.9C1360.7,983.8 1368.8,984.0 1377.0,984.6" fill="none" stroke="#767676" stroke-width="3.6" stroke-dasharray="12 6"/>
<g fill="#767676" stroke="#767676" stroke-width="2.6" stroke-linejoin="round"><path d="M321.3,976.3 L326.9,984.9 L315.7,984.9Z"/><path d="M375.0,992.6 L380.6,1001.2 L369.4,1001.2Z"/><path d="M428.9,968.5 L434.5,977.1 L423.3,977.1Z"/><path d="M483.6,963.3 L489.2,971.9 L478.0,971.9Z"/><path d="M538.0,973.2 L543.6,981.8 L532.4,981.8Z"/><path d="M592.9,969.7 L598.5,978.3 L587.3,978.3Z"/><path d="M648.6,1046.8 L654.2,1055.4 L643.0,1055.4Z"/><path d="M701.4,939.5 L707.0,948.1 L695.8,948.1Z"/><path d="M754.8,1285.2 L760.4,1293.8 L749.2,1293.8Z"/><path d="M809.4,1012.5 L815.0,1021.1 L803.8,1021.1Z"/><path d="M858.6,994.0 L864.2,1002.6 L853.0,1002.6Z"/><path d="M915.7,986.8 L921.3,995.4 L910.1,995.4Z"/><path d="M972.9,967.5 L978.5,976.1 L967.3,976.1Z"/><path d="M1026.6,977.0 L1032.2,985.6 L1021.0,985.6Z"/><path d="M1082.9,974.0 L1088.5,982.6 L1077.3,982.6Z"/><path d="M1135.2,986.7 L1140.8,995.3 L1129.6,995.3Z"/><path d="M1190.0,976.5 L1195.6,985.1 L1184.4,985.1Z"/><path d="M1245.4,980.9 L1251.0,989.5 L1239.8,989.5Z"/><path d="M1297.1,976.5 L1302.7,985.1 L1291.5,985.1Z"/><path d="M1352.5,978.3 L1358.1,986.9 L1346.9,986.9Z"/></g>
<path d="M318.0,994.0C323.0,992.4 327.9,991.2 332.9,989.1C336.7,987.5 340.5,983.6 344.3,982.3C347.3,981.2 350.4,980.0 353.4,980.0C356.8,980.0 360.3,981.8 363.7,983.4C366.8,984.8 369.8,988.7 372.9,990.3C376.7,992.3 380.5,994.9 384.3,994.9C388.1,994.9 391.9,992.0 395.7,989.1C398.4,987.0 401.0,980.4 403.7,977.7C407.1,974.2 410.6,969.7 414.0,969.7C416.7,969.7 419.3,972.2 422.0,974.3C424.7,976.4 427.3,982.2 430.0,984.6C432.7,987.0 435.3,989.3 438.0,990.3C441.0,991.4 444.1,992.6 447.1,992.6C450.9,992.6 454.8,990.7 458.6,989.1C463.8,986.9 469.1,980.7 474.3,977.1C478.1,974.5 481.9,970.0 485.7,970.0C489.5,970.0 493.3,975.6 497.1,980.0C500.4,983.9 503.8,993.7 507.1,997.1C512.4,1002.4 517.6,1007.9 522.9,1007.9C526.2,1007.9 529.6,1005.6 532.9,1002.9C536.2,1000.2 539.6,987.4 542.9,981.4C547.2,973.8 551.4,962.1 555.7,962.1C558.6,962.1 561.4,965.2 564.3,968.6C567.2,972.0 570.0,985.4 572.9,991.4C577.6,1001.3 582.3,1015.2 587.0,1015.2C590.3,1015.2 593.7,1011.9 597.0,1009.0C599.9,1006.5 602.8,1001.4 605.7,997.1C608.6,992.9 611.4,988.3 614.3,983.4C616.7,979.4 619.0,973.3 621.4,970.5C624.3,967.1 627.1,962.9 630.0,962.9C632.9,962.9 635.7,967.2 638.6,971.4C641.9,976.2 645.3,992.2 648.6,1000.0C651.5,1006.9 654.5,1017.6 657.4,1017.6C660.5,1017.6 663.6,1007.6 666.7,1002.9C670.7,996.8 674.7,985.5 678.7,985.5C681.4,985.5 684.0,989.7 686.7,992.2C689.8,995.1 693.0,1002.2 696.1,1002.2C698.3,1002.2 700.6,994.8 702.8,986.8C704.1,982.0 705.5,969.5 706.8,960.1C708.6,947.6 710.3,940.6 712.1,920.1C712.8,912.4 713.4,894.1 714.1,881.6C714.9,866.0 715.8,850.4 716.6,835.9C718.6,801.8 720.5,761.5 722.5,740.0C724.7,715.9 726.9,686.0 729.1,686.0C730.9,686.0 732.7,716.0 734.5,740.0C736.1,761.7 737.8,795.4 739.4,835.9C739.9,848.3 740.4,866.9 740.9,881.6C741.5,898.3 742.0,914.6 742.6,930.0C743.3,949.9 744.1,971.2 744.8,986.8C746.2,1016.5 747.6,1036.8 749.0,1060.0C750.6,1087.0 752.3,1114.5 753.9,1136.9C755.8,1163.4 757.8,1207.1 759.7,1207.1C762.7,1207.1 765.8,1163.7 768.8,1136.9C770.4,1123.1 771.9,1102.0 773.5,1090.0C775.2,1077.0 776.9,1068.3 778.6,1058.6C780.0,1050.4 781.5,1041.6 782.9,1035.7C784.8,1027.9 786.7,1020.6 788.6,1017.1C790.3,1014.1 791.9,1010.7 793.6,1010.7C795.7,1010.7 797.9,1013.2 800.0,1014.3C801.9,1015.3 803.8,1017.1 805.7,1017.1C808.1,1017.1 810.5,1012.9 812.9,1008.6C814.8,1005.2 816.7,995.5 818.6,988.6C820.5,981.7 822.4,972.0 824.3,967.1C826.9,960.4 829.5,952.1 832.1,952.1C834.3,952.1 836.4,956.9 838.6,961.4C841.0,966.3 843.3,980.7 845.7,988.6C848.1,996.6 850.5,1005.9 852.9,1010.0C855.3,1014.1 857.6,1018.6 860.0,1018.6C863.8,1018.6 867.6,1012.7 871.4,1008.6C876.2,1003.5 880.9,996.3 885.7,988.6C889.5,982.5 893.3,972.4 897.1,967.1C900.7,962.1 904.3,955.0 907.9,955.0C911.0,955.0 914.0,959.6 917.1,964.3C919.5,968.0 921.9,979.3 924.3,985.7C926.7,992.0 929.0,999.1 931.4,1002.9C933.8,1006.7 936.2,1011.4 938.6,1011.4C941.0,1011.4 943.3,1006.7 945.7,1002.9C948.1,999.0 950.5,990.2 952.9,985.0C955.3,979.9 957.6,974.3 960.0,971.4C963.6,967.0 967.1,962.1 970.7,962.1C973.8,962.1 976.9,966.3 980.0,970.0C982.9,973.4 985.7,982.5 988.6,987.1C991.4,991.7 994.3,996.9 997.1,998.6C999.5,1000.0 1001.9,1001.4 1004.3,1001.4C1008.6,1001.4 1012.8,995.8 1017.1,992.9C1021.4,989.9 1025.7,985.1 1030.0,983.6C1034.3,982.1 1038.6,980.7 1042.9,980.7C1047.2,980.7 1051.4,984.2 1055.7,987.1C1058.6,989.1 1061.4,993.3 1064.3,995.7C1067.9,998.7 1071.4,1003.6 1075.0,1003.6C1079.0,1003.6 1083.1,999.1 1087.1,995.7C1090.4,992.9 1093.8,986.6 1097.1,984.3C1100.4,982.0 1103.8,979.3 1107.1,979.3C1110.4,979.3 1113.8,983.1 1117.1,985.7C1120.0,987.9 1122.8,992.7 1125.7,994.3C1128.1,995.6 1130.5,997.1 1132.9,997.1C1136.2,997.1 1139.6,993.9 1142.9,991.4C1145.5,989.4 1148.1,985.3 1150.7,982.9C1153.7,980.1 1156.6,975.7 1159.6,975.7C1163.2,975.7 1166.8,979.6 1170.4,981.1C1175.1,983.1 1179.9,986.4 1184.6,986.4C1190.0,986.4 1195.3,979.6 1200.7,979.6C1205.5,979.6 1210.2,982.6 1215.0,984.6C1219.8,986.6 1224.5,990.2 1229.3,991.8C1235.2,993.8 1241.2,995.8 1247.1,996.3C1251.9,996.7 1256.6,997.1 1261.4,997.1C1266.2,997.1 1270.9,995.3 1275.7,993.6C1279.9,992.2 1284.0,988.3 1288.2,986.4C1291.2,985.0 1294.1,982.9 1297.1,982.9C1300.7,982.9 1304.3,986.8 1307.9,988.2C1311.5,989.6 1315.0,991.8 1318.6,991.8C1322.2,991.8 1325.7,987.9 1329.3,986.4C1333.5,984.7 1337.6,982.5 1341.8,982.0C1346.0,981.5 1350.1,981.5 1354.3,981.1C1359.1,980.7 1363.8,979.3 1368.6,979.3C1371.4,979.3 1374.2,981.7 1377.0,982.9" fill="none" stroke="#bf1616" stroke-width="2.5"/>
<path d="M318.0,992.6C321.0,994.1 324.1,997.1 327.1,997.1C329.7,997.1 332.4,996.5 335.0,996.0C337.7,995.5 340.4,994.1 343.1,993.1C346.5,991.8 350.0,989.1 353.4,989.1C356.1,989.1 358.7,992.0 361.4,992.0C364.1,992.0 366.7,990.2 369.4,989.1C372.5,987.8 375.5,986.0 378.6,984.6C382.4,982.9 386.2,980.0 390.0,980.0C393.8,980.0 397.6,985.3 401.4,988.0C404.1,989.9 406.7,993.7 409.4,993.7C411.7,993.7 414.0,993.7 416.3,993.7C419.0,993.7 421.6,990.3 424.3,988.0C427.3,985.4 430.4,980.6 433.4,977.7C436.1,975.1 438.7,970.9 441.4,970.9C443.7,970.9 446.0,972.7 448.3,974.3C450.2,975.6 452.1,978.7 454.0,981.1C457.0,985.0 460.1,992.0 463.1,993.7C464.9,994.7 466.8,995.7 468.6,995.7C471.9,995.7 475.3,991.0 478.6,988.6C481.9,986.2 485.3,981.4 488.6,981.4C492.4,981.4 496.2,987.1 500.0,987.1C503.3,987.1 506.7,985.5 510.0,984.0C513.3,982.5 516.7,975.7 520.0,975.7C525.7,975.7 531.4,975.7 537.1,975.7C540.0,975.7 542.8,981.4 545.7,981.4C548.6,981.4 551.4,981.4 554.3,981.4C557.2,981.4 560.0,975.7 562.9,971.4C565.7,967.1 568.6,955.5 571.4,952.9C573.8,950.7 576.2,948.6 578.6,948.6C580.5,948.6 582.4,954.3 584.3,959.3C585.7,963.1 587.2,969.9 588.6,977.1C589.5,981.8 590.5,988.6 591.4,994.3C592.8,1003.0 594.3,1013.0 595.7,1020.0C597.6,1029.2 599.5,1037.1 601.4,1042.9C602.8,1047.3 604.3,1053.6 605.7,1053.6C607.6,1053.6 609.5,1051.4 611.4,1048.6C613.3,1045.8 615.2,1030.9 617.1,1022.9C619.5,1012.7 621.9,1002.4 624.3,994.3C626.7,986.3 629.0,973.9 631.4,973.6C635.2,973.1 639.1,972.9 642.9,972.9C645.7,972.9 648.6,977.9 651.4,980.0C653.4,981.5 655.4,982.8 657.4,984.2C661.8,987.3 666.3,989.7 670.7,993.5C673.4,995.8 676.0,998.2 678.7,1002.2C680.9,1005.5 683.2,1014.1 685.4,1017.6C688.1,1021.8 690.7,1026.9 693.4,1026.9C695.6,1026.9 697.9,1024.4 700.1,1020.2C701.2,1018.1 702.3,1007.7 703.4,1000.2C704.5,992.5 705.7,984.3 706.8,973.5C707.9,963.0 709.0,948.5 710.1,933.4C711.2,917.9 712.4,896.9 713.5,880.0C714.5,864.6 715.6,851.5 716.6,835.9C718.6,806.3 720.5,761.5 722.5,740.0C724.7,715.9 726.9,686.0 729.1,686.0C730.9,686.0 732.7,716.0 734.5,740.0C736.1,761.7 737.8,796.7 739.4,835.9C739.9,848.7 740.5,866.8 741.0,881.6C741.6,898.2 742.2,915.7 742.8,930.0C743.7,951.4 744.6,961.3 745.5,986.8C746.1,1003.8 746.7,1038.8 747.3,1060.0C748.1,1089.4 749.0,1116.0 749.8,1136.9C750.7,1160.3 751.7,1180.1 752.6,1196.0C753.3,1207.3 753.9,1219.0 754.6,1225.0C755.3,1231.0 755.9,1235.8 756.6,1238.0C757.2,1240.1 757.9,1242.3 758.5,1242.3C759.2,1242.3 759.8,1240.2 760.5,1238.0C761.2,1235.8 761.8,1229.8 762.5,1224.0C763.1,1219.1 763.6,1212.1 764.2,1205.0C765.7,1185.9 767.3,1155.2 768.8,1136.9C770.4,1118.2 771.9,1106.3 773.5,1090.0C774.9,1075.8 776.2,1058.4 777.6,1045.6C778.9,1033.8 780.1,1023.1 781.4,1014.3C782.8,1004.3 784.3,993.8 785.7,988.6C787.6,981.8 789.5,975.1 791.4,974.3C792.4,973.9 793.3,973.6 794.3,973.6C797.2,973.6 800.0,976.0 802.9,977.1C806.7,978.6 810.5,981.4 814.3,981.4C818.1,981.4 821.9,980.7 825.7,980.7C828.6,980.7 831.4,985.5 834.3,988.6C837.2,991.7 840.0,995.8 842.9,1000.0C845.3,1003.4 847.6,1009.0 850.0,1011.4C851.9,1013.3 853.8,1015.7 855.7,1015.7C857.6,1015.7 859.5,1010.6 861.4,1005.7C862.8,1002.0 864.3,992.6 865.7,985.7C867.1,978.8 868.6,970.4 870.0,964.3C871.2,959.2 872.4,955.6 873.6,950.7C875.3,943.9 876.9,932.9 878.6,928.6C880.0,924.9 881.5,920.7 882.9,920.7C884.8,920.7 886.7,923.7 888.6,927.1C890.0,929.6 891.5,936.8 892.9,942.9C894.3,948.9 895.7,957.7 897.1,964.3C898.5,971.0 900.0,977.5 901.4,982.9C902.8,988.3 904.3,994.4 905.7,997.1C907.6,1000.6 909.5,1004.3 911.4,1004.3C914.3,1004.3 917.1,1003.6 920.0,1002.9C923.3,1002.1 926.7,997.1 930.0,997.1C932.9,997.1 935.7,997.1 938.6,997.1C941.4,997.1 944.3,1000.0 947.1,1001.4C949.0,1002.4 951.0,1004.3 952.9,1004.3C955.7,1004.3 958.6,1000.9 961.4,998.6C963.3,997.1 965.2,995.3 967.1,992.9C968.5,991.1 970.0,987.2 971.4,985.7C973.8,983.3 976.2,980.7 978.6,980.7C981.0,980.7 983.3,982.7 985.7,984.3C988.1,985.9 990.5,989.0 992.9,991.4C994.3,992.8 995.7,995.7 997.1,995.7C999.5,995.7 1001.9,993.5 1004.3,991.4C1006.7,989.3 1009.0,983.1 1011.4,980.0C1014.0,976.6 1016.7,971.4 1019.3,971.4C1021.4,971.4 1023.6,973.0 1025.7,974.3C1027.6,975.5 1029.5,977.7 1031.4,980.0C1033.8,982.9 1036.2,988.4 1038.6,991.4C1041.4,994.9 1044.3,1000.0 1047.1,1000.0C1050.0,1000.0 1052.8,999.4 1055.7,998.6C1059.0,997.7 1062.4,992.3 1065.7,990.0C1069.0,987.7 1072.4,984.3 1075.7,984.3C1079.1,984.3 1082.6,986.4 1086.0,988.0C1089.2,989.5 1092.5,994.3 1095.7,994.3C1098.6,994.3 1101.4,994.0 1104.3,993.6C1107.6,993.1 1111.0,988.5 1114.3,987.1C1118.9,985.2 1123.4,983.1 1128.0,983.0C1132.0,982.9 1136.0,983.0 1140.0,982.9C1143.3,982.8 1146.7,980.0 1150.0,978.6C1153.8,977.0 1157.6,973.9 1161.4,973.9C1165.0,973.9 1168.5,974.7 1172.1,975.7C1175.1,976.5 1178.1,980.2 1181.1,982.9C1184.1,985.5 1187.0,989.3 1190.0,991.8C1192.4,993.8 1194.7,997.1 1197.1,997.1C1201.3,997.1 1205.4,995.4 1209.6,993.6C1213.8,991.8 1217.9,982.9 1222.1,982.9C1226.3,982.9 1230.4,982.9 1234.6,982.9C1238.8,982.9 1242.9,989.5 1247.1,991.8C1251.6,994.3 1256.0,998.0 1260.5,998.0C1264.4,998.0 1268.2,994.0 1272.1,991.8C1275.7,989.8 1279.3,985.5 1282.9,985.5C1286.9,985.5 1291.0,986.8 1295.0,988.0C1299.3,989.3 1303.6,994.5 1307.9,994.5C1311.9,994.5 1316.0,990.0 1320.0,988.0C1324.9,985.5 1329.7,981.1 1334.6,981.1C1341.5,981.1 1348.3,987.3 1355.2,987.3C1362.5,987.3 1369.7,986.7 1377.0,986.4" fill="none" stroke="#000" stroke-width="4" stroke-dasharray="4 5"/>
<g fill="none" stroke="#000" stroke-width="4.2"><circle cx="317.6" cy="992.6" r="4.1"/><circle cx="342.7" cy="993.3" r="4.1"/><circle cx="390.0" cy="980.0" r="4.1"/><circle cx="441.4" cy="970.9" r="4.1"/><circle cx="488.6" cy="981.4" r="4.1"/><circle cx="537.1" cy="975.7" r="4.1"/><circle cx="584.3" cy="959.3" r="4.1"/><circle cx="631.4" cy="973.6" r="4.1"/><circle cx="678.7" cy="1002.2" r="4.1"/><circle cx="729.1" cy="686.0" r="4.1"/><circle cx="777.6" cy="1045.6" r="4.1"/><circle cx="825.7" cy="980.7" r="4.1"/><circle cx="873.6" cy="950.7" r="4.1"/><circle cx="920.0" cy="1002.9" r="4.1"/><circle cx="971.4" cy="985.7" r="4.1"/><circle cx="1019.3" cy="971.4" r="4.1"/><circle cx="1065.7" cy="990.0" r="4.1"/><circle cx="1114.3" cy="987.1" r="4.1"/><circle cx="1161.4" cy="973.9" r="4.1"/><circle cx="1209.6" cy="993.6" r="4.1"/><circle cx="1260.5" cy="998.0" r="4.1"/><circle cx="1307.9" cy="994.5" r="4.1"/><circle cx="1355.2" cy="987.3" r="4.1"/></g>
<path d="M105.5,986.6 L225.1,986.6 L225.1,986.6 L225.6,986.6 L226.1,986.6 L226.6,986.6 L227.1,986.6 L227.6,986.6 L228.1,986.6 L228.6,986.6 L229.1,986.6 L229.6,986.6 L230.1,986.6 L230.6,986.6 L231.1,986.6 L231.6,986.6 L232.1,986.6 L232.6,986.6 L233.1,986.6 L233.6,986.6 L234.1,986.6 L234.6,986.6 L235.1,986.6 L235.6,986.6 L236.1,986.6 L236.6,986.6 L237.1,986.6 L237.6,986.6 L238.1,986.6 L238.6,986.6 L239.1,986.6 L239.6,986.6 L240.1,986.6 L240.6,986.6 L241.1,986.6 L241.6,986.6 L242.1,986.6 L242.6,986.6 L243.1,986.6 L243.6,986.6 L244.1,986.6 L244.6,986.6 L245.1,986.6 L245.6,986.6 L246.1,986.6 L246.6,986.5 L247.1,986.5 L247.6,986.5 L248.1,986.5 L248.6,986.5 L249.1,986.5 L249.6,986.5 L250.1,986.4 L250.6,986.4 L251.1,986.4 L251.6,986.4 L252.1,986.3 L252.6,986.3 L253.1,986.3 L253.6,986.2 L254.1,986.2 L254.6,986.1 L255.1,986.1 L255.6,986.0 L256.1,985.9 L256.6,985.8 L257.1,985.7 L257.6,985.6 L258.1,985.5 L258.6,985.3 L259.1,985.2 L259.6,985.0 L260.1,984.8 L260.6,984.6 L261.1,984.4 L261.6,984.1 L262.1,983.8 L262.6,983.5 L263.1,983.2 L263.6,982.8 L264.1,982.4 L264.6,981.9 L265.1,981.4 L265.6,980.9 L266.1,980.3 L266.6,979.6 L267.1,978.9 L267.6,978.2 L268.1,977.3 L268.6,976.4 L269.1,975.4 L269.6,974.4 L270.1,973.2 L270.6,972.0 L271.1,970.7 L271.6,969.2 L272.1,967.7 L272.6,966.0 L273.1,964.2 L273.6,962.3 L274.1,960.3 L274.6,958.1 L275.1,955.8 L275.6,953.3 L276.1,950.7 L276.6,947.9 L277.1,945.0 L277.6,941.9 L278.1,938.6 L278.6,935.1 L279.1,931.4 L279.6,927.6 L280.1,923.6 L280.6,919.3 L281.1,914.9 L281.6,910.3 L282.1,905.5 L282.6,900.5 L283.1,895.3 L283.6,889.9 L284.1,884.3 L284.6,878.6 L285.1,872.6 L285.6,866.5 L286.1,860.2 L286.6,853.8 L287.1,847.2 L287.6,840.5 L288.1,833.7 L288.6,826.8 L289.1,819.8 L289.6,812.7 L290.1,805.5 L290.6,798.4 L291.1,791.2 L291.6,784.0 L292.1,776.9 L292.6,769.8 L293.1,762.9 L293.6,756.0 L294.1,749.3 L294.6,742.7 L295.1,736.4 L295.6,730.3 L296.1,724.4 L296.6,718.9 L297.1,713.7 L297.6,708.8 L298.1,704.3 L298.6,700.3 L299.1,696.7 L299.6,693.5 L300.1,690.9 L300.6,688.9 L301.1,687.3 L301.6,686.4 L302.1,686.1 L302.6,686.4 L303.1,687.4 L303.6,689.0 L304.1,691.4 L304.6,694.4 L305.1,698.1 L305.6,702.6 L306.1,707.7 L306.6,713.6 L307.1,720.2 L307.6,727.6 L308.1,735.6 L308.6,744.3 L309.1,753.7 L309.6,763.8 L310.1,774.5 L310.6,785.8 L311.1,797.7 L311.6,810.2 L312.1,823.2 L312.6,836.7 L313.1,850.7 L313.6,865.1 L314.1,879.9 L314.6,894.9 L315.1,910.3 L315.6,925.9 L316.1,941.7 L316.6,957.7 L317.1,973.7 L317.6,989.8 L318.1,1005.9 L318.6,1021.9 L319.1,1037.8 L319.6,1053.5 L320.1,1069.1 L320.6,1084.3 L321.1,1099.3 L321.6,1113.9 L322.1,1128.1 L322.6,1141.9 L323.1,1155.2 L323.6,1168.0 L324.1,1180.3 L324.6,1192.0 L325.1,1203.1 L325.6,1213.5 L326.1,1223.3 L326.6,1232.5 L327.1,1240.9 L327.6,1248.7 L328.1,1255.7 L328.6,1262.0 L329.1,1267.6 L329.6,1272.5 L330.1,1276.7 L330.6,1280.1 L331.1,1282.8 L331.6,1284.9 L332.1,1286.3 L332.6,1287.0 L333.1,1287.0 L333.6,1286.5 L334.1,1285.3 L334.6,1283.6 L335.1,1281.3 L335.6,1278.5 L336.1,1275.1 L336.6,1271.4 L337.1,1267.1 L337.6,1262.5 L338.1,1257.5 L338.6,1252.1 L339.1,1246.5 L339.6,1240.5 L340.1,1234.3 L340.6,1227.9 L341.1,1221.3 L341.6,1214.5 L342.1,1207.6 L342.6,1200.5 L343.1,1193.4 L343.6,1186.3 L344.1,1179.1 L344.6,1172.0 L345.1,1164.8 L345.6,1157.7 L346.1,1150.6 L346.6,1143.6 L347.1,1136.8 L347.6,1130.0 L348.1,1123.3 L348.6,1116.8 L349.1,1110.4 L349.6,1104.2 L350.1,1098.2 L350.6,1092.3 L351.1,1086.6 L351.6,1081.1 L352.1,1075.8 L352.6,1070.7 L353.1,1065.8 L353.6,1061.0 L354.1,1056.5 L354.6,1052.2 L355.1,1048.0 L355.6,1044.0 L356.1,1040.3 L356.6,1036.7 L357.1,1033.3 L357.6,1030.1 L358.1,1027.0 L358.6,1024.2 L359.1,1021.4 L359.6,1018.9 L360.1,1016.5 L360.6,1014.2 L361.1,1012.1 L361.6,1010.1 L362.1,1008.3 L362.6,1006.5 L363.1,1004.9 L363.6,1003.4 L364.1,1002.0 L364.6,1000.7 L365.1,999.5 L365.6,998.4 L366.1,997.4 L366.6,996.4 L367.1,995.5 L367.6,994.7 L368.1,994.0 L368.6,993.3 L369.1,992.7 L369.6,992.1 L370.1,991.6 L370.6,991.1 L371.1,990.6 L371.6,990.2 L372.1,989.9 L372.6,989.5 L373.1,989.2 L373.6,989.0 L374.1,988.7 L374.6,988.5 L375.1,988.3 L375.6,988.1 L376.1,988.0 L376.6,987.8 L377.1,987.7 L377.6,987.6 L378.1,987.4 L378.6,987.4 L379.1,987.3 L379.6,987.2 L380.1,987.1 L380.6,987.1 L381.1,987.0 L381.6,987.0 L382.1,986.9 L382.6,986.9 L383.1,986.8 L383.6,986.8 L384.1,986.8 L384.6,986.8 L385.1,986.7 L385.6,986.7 L386.1,986.7 L386.6,986.7 L387.1,986.7 L387.6,986.7 L388.1,986.7 L388.6,986.7 L389.1,986.6 L389.6,986.6 L390.1,986.6 L390.6,986.6 L391.1,986.6 L391.6,986.6 L392.1,986.6 L392.6,986.6 L393.1,986.6 L393.6,986.6 L394.1,986.6 L394.6,986.6 L395.1,986.6 L395.6,986.6 L396.1,986.6 L396.6,986.6 L397.1,986.6 L397.6,986.6 L398.1,986.6 L398.6,986.6 L399.1,986.6 L399.6,986.6 L400.1,986.6 L400.6,986.6 L401.1,986.6 L401.6,986.6 L402.1,986.6 L402.6,986.6 L403.1,986.6 L403.6,986.6 L404.1,986.6 L404.6,986.6 L405.1,986.6 L405.6,986.6 L406.1,986.6 L406.6,986.6 L407.1,986.6 L407.6,986.6 L408.1,986.6 L408.6,986.6 L409.1,986.6 L409.6,986.6 L1377.2,986.6" fill="none" stroke="#000" stroke-width="2.7" stroke-dasharray="7.5 2.5 3.5 2.5"/>
<rect x="904.3" y="699.7" width="459.7" height="199.1" fill="#fff" stroke="#3a3a3a" stroke-width="1.4"/>
<line x1="904.3" y1="741.8" x2="1364.0" y2="741.8" stroke="#3a3a3a" stroke-width="1.4"/>
<text x="995.86" y="732.9" font-family="Liberation Sans, sans-serif" font-weight="bold" font-size="29.2" textLength="275.94" lengthAdjust="spacingAndGlyphs">Bent antenna setup</text>
<text x="941.76" y="774.8" font-family="Liberation Sans, sans-serif" font-weight="bold" font-size="29.2" textLength="418.93" lengthAdjust="spacingAndGlyphs">Recived Pulse &quot;Face to Face&quot;</text>
<line x1="908.2" y1="763.0" x2="936.2" y2="763.0" stroke="#767676" stroke-width="3.4"/>
<g fill="#767676" stroke="#767676" stroke-width="2.6" stroke-linejoin="round"><path d="M923.4,757.4 L929.0,766.0 L917.8,766.0Z"/></g>
<text x="941.76" y="813.0" font-family="Liberation Sans, sans-serif" font-weight="bold" font-size="29.2" textLength="413.89" lengthAdjust="spacingAndGlyphs">Recived Pulse &quot;Face to Side&quot;</text>
<line x1="908.2" y1="801.2" x2="938.6" y2="801.2" stroke="#bf1616" stroke-width="2.9"/>
<text x="941.76" y="852.1" font-family="Liberation Sans, sans-serif" font-weight="bold" font-size="29.2" textLength="408.7" lengthAdjust="spacingAndGlyphs">Recived Pulse &quot;Side to Side&quot;</text>
<line x1="908.2" y1="839.5" x2="936.5" y2="839.5" stroke="#000" stroke-width="4" stroke-dasharray="4 20.3"/>
<g fill="none" stroke="#000" stroke-width="4.2"><circle cx="923.4" cy="839.5" r="4.1"/></g>
<text x="941.46" y="890.0" font-family="Liberation Sans, sans-serif" font-weight="bold" font-size="29.2" textLength="170.7" lengthAdjust="spacingAndGlyphs">Input Signal</text>
<line x1="908.2" y1="878.0" x2="938.6" y2="878.0" stroke="#000" stroke-width="2.3" stroke-dasharray="7.5 2.5 3.5 2.5"/>
<text x="661.8" y="1377.4" font-family="Liberation Sans, sans-serif" font-weight="bold" font-size="35.8" textLength="159.94" lengthAdjust="spacingAndGlyphs">Time (ns)</text>
<text x="755.1" y="654.5" text-anchor="middle" font-family="Liberation Serif, serif" font-size="27">(a)</text>
<text x="755.6" y="1418.5" text-anchor="middle" font-family="Liberation Serif, serif" font-size="27">(b)</text>
</svg>
</body></html>
